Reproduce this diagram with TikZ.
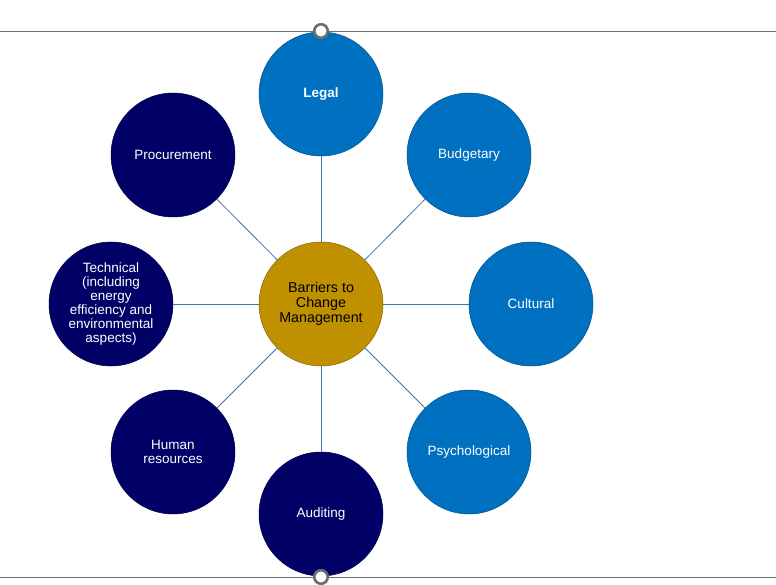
\documentclass[tikz,border=0pt]{standalone}
\usepackage{fontspec}
\setmainfont{Liberation Sans}
\definecolor{lblue}{HTML}{0070C0}
\definecolor{navy}{HTML}{000066}
\definecolor{gold}{HTML}{BF9000}
\definecolor{conn}{HTML}{4A6CB0}
\definecolor{rule}{HTML}{6E6E6E}
\begin{document}
\begin{tikzpicture}[x=1pt,y=-1pt,
  bub/.style={circle,minimum size=124pt,inner sep=0pt,draw=#1!70!black,line width=0.5pt,fill=#1,text=white,align=center,font=\fontsize{13.5}{14}\selectfont},
  conline/.style={draw=conn,line width=0.8pt},
  handle/.style={circle,minimum size=13.5pt,inner sep=0pt,draw=rule,line width=2.6pt,fill=white}]
\useasboundingbox (0,0) rectangle (776,585);
\draw[rule,line width=0.8pt] (0,31) -- (776,31);
\draw[rule,line width=0.8pt] (0,577) -- (776,577);
\node[bub=gold,text=black,font=\fontsize{14.3}{15}\selectfont] (c) at (321,304) {Barriers to\\Change\\Management};
\node[bub=lblue,font=\fontsize{13.5}{14}\selectfont\bfseries] (legal) at (321,94) {Legal};
\node[bub=lblue] (bud) at (469,155) {Budgetary};
\node[bub=lblue] (cul) at (531,304) {Cultural};
\node[bub=lblue] (psy) at (469,452) {Psychological};
\node[bub=navy] (aud) at (321,514) {Auditing};
\node[bub=navy] (hum) at (173,452) {Human\\resources};
\node[bub=navy] (tec) at (111,304) {Technical\\(including\\energy\\efficiency and\\environmental\\aspects)};
\node[bub=navy] (pro) at (173,155) {Procurement};
\foreach \n in {legal,bud,cul,psy,aud,hum,tec,pro} \draw[conline] (c) -- (\n);
\node[handle] (h1) at (321,31) {};
\node[handle] (h2) at (321,577) {};
\end{tikzpicture}
\end{document}
